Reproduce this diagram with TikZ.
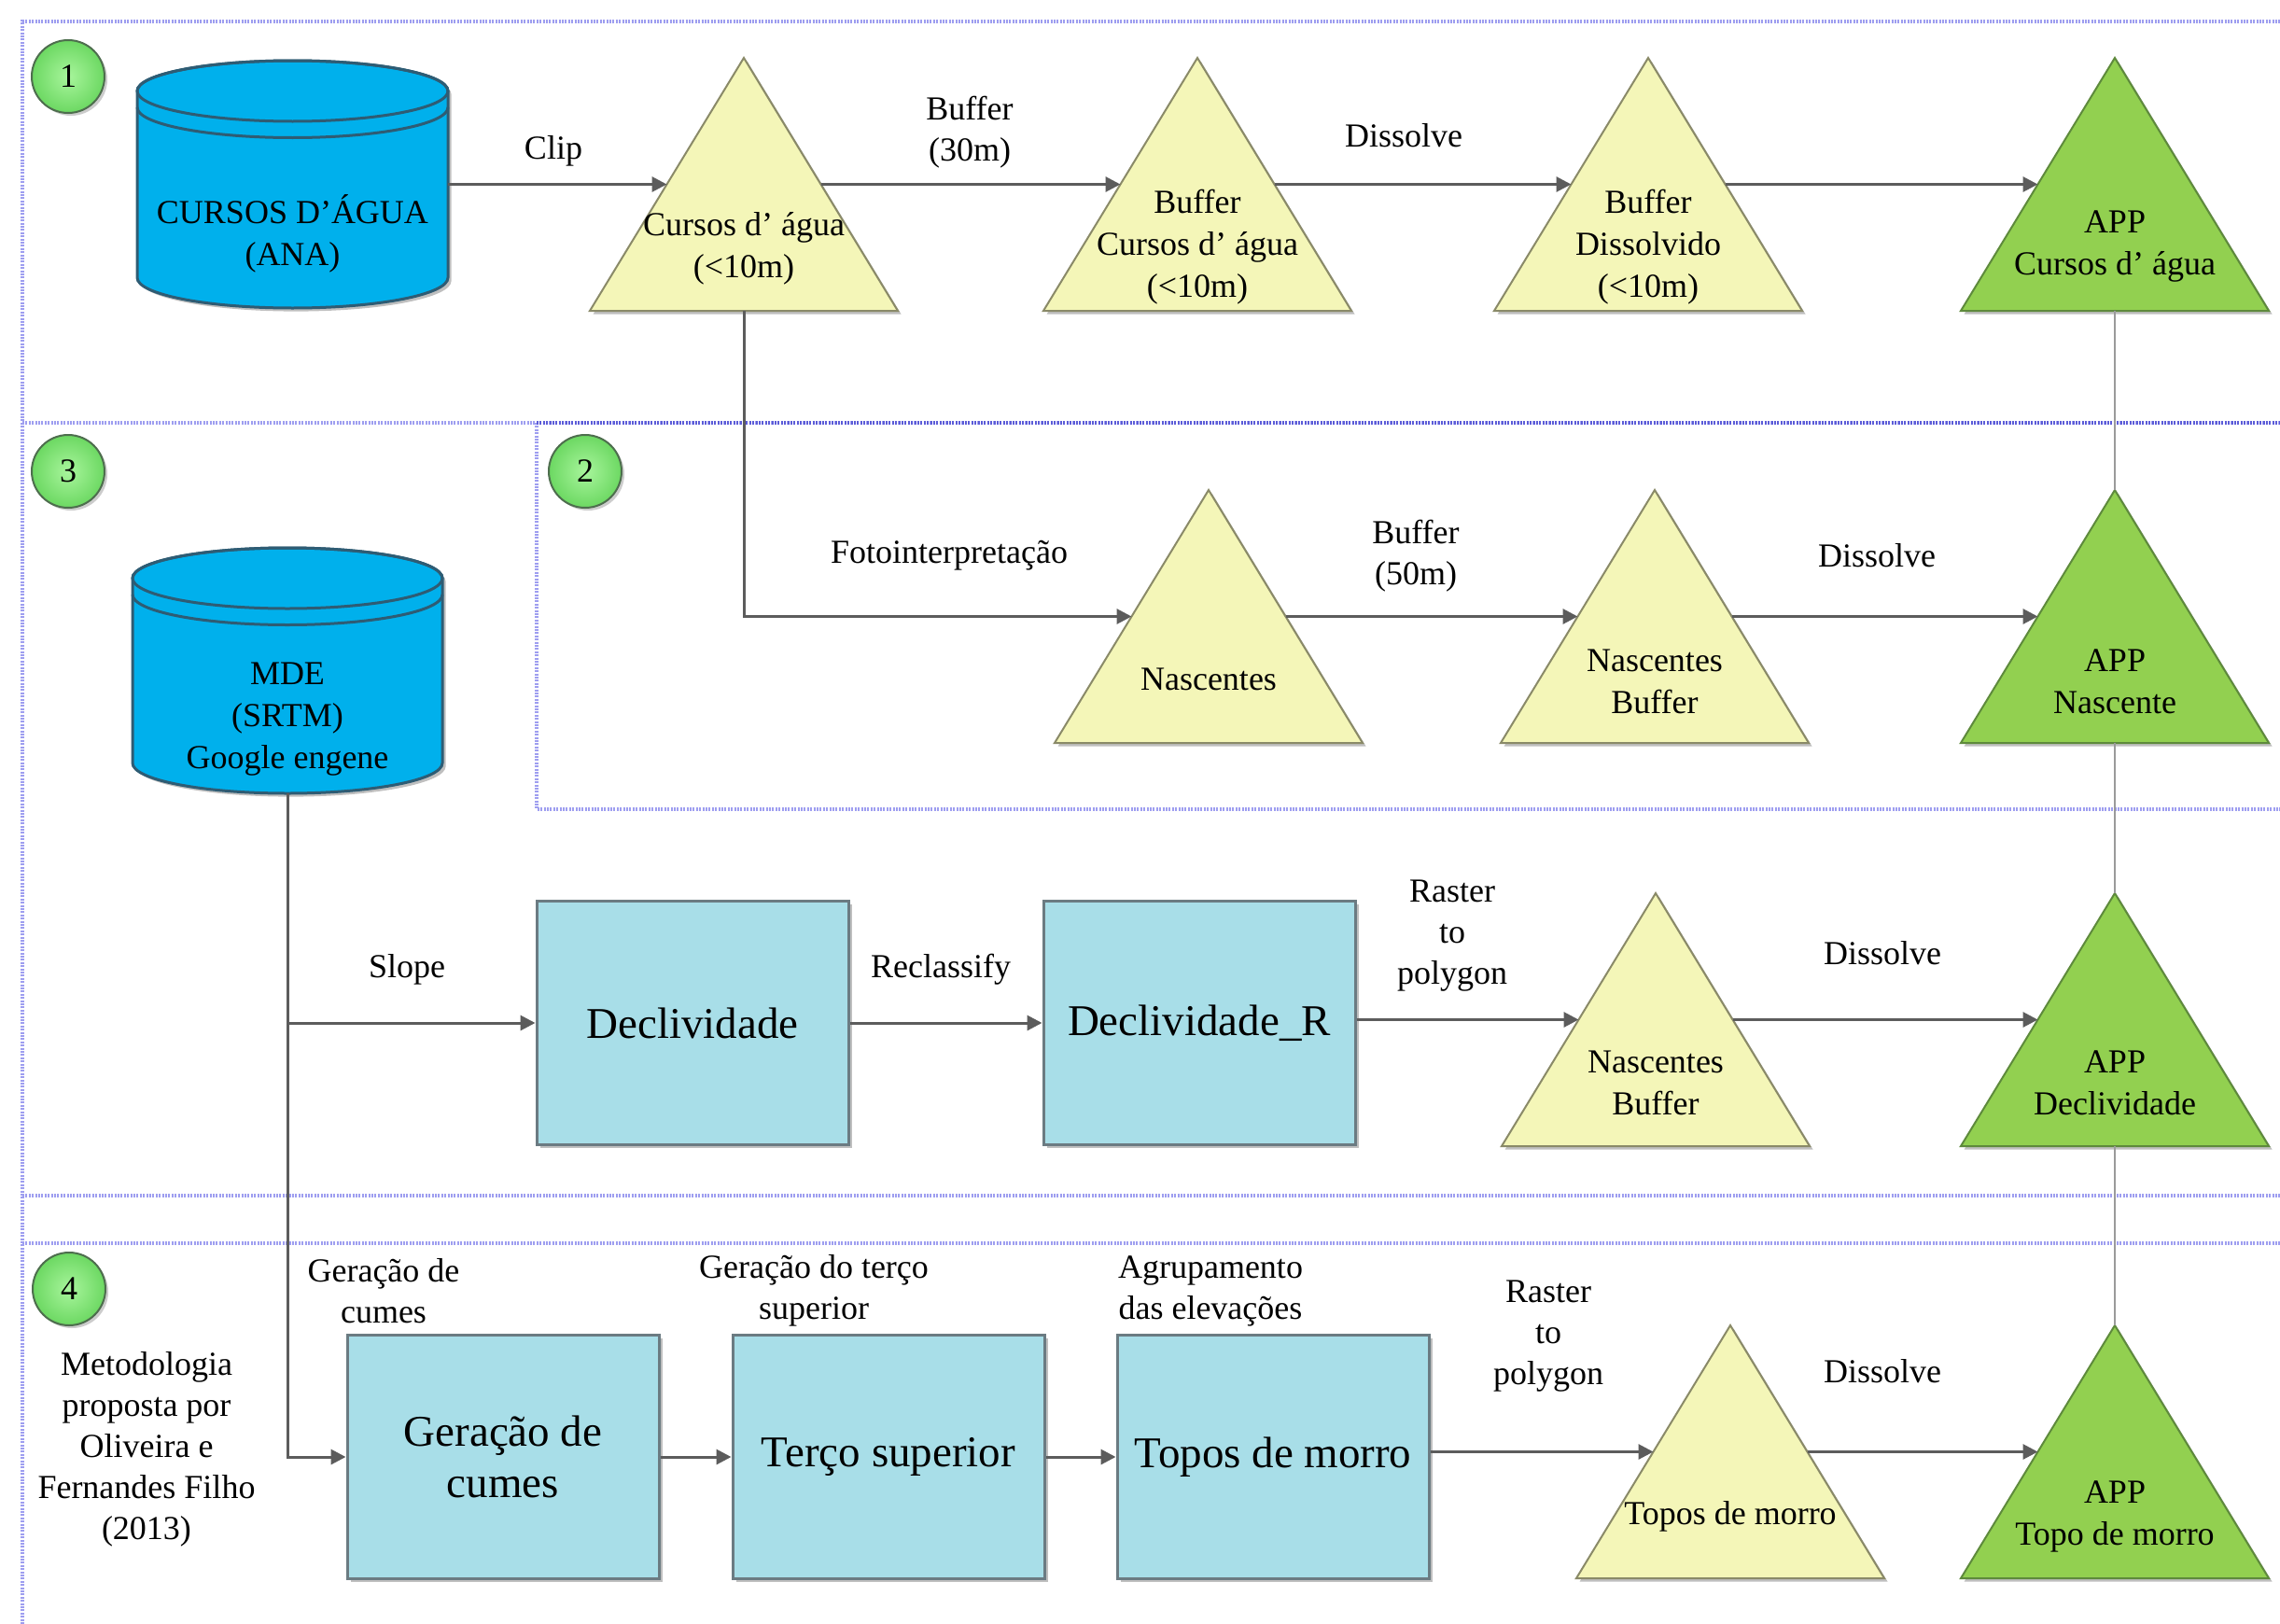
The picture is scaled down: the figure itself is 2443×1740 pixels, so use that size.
\documentclass[tikz,border=0pt]{standalone}
\usepackage{fontspec}
\setmainfont{Liberation Serif}
\usetikzlibrary{arrows.meta,calc,shadows}

\definecolor{cylfill}{HTML}{00B0EC}
\definecolor{cylline}{HTML}{2E5C74}
\definecolor{trifill}{HTML}{F4F6B8}
\definecolor{triline}{HTML}{8A8A68}
\definecolor{appfill}{HTML}{92D050}
\definecolor{appline}{HTML}{5E8A3C}
\definecolor{boxfill}{HTML}{A8DEE8}
\definecolor{boxline}{HTML}{6B7B82}
\definecolor{arrowc}{HTML}{5C5C5C}
\definecolor{linkc}{HTML}{9A9A9A}
\definecolor{panelc}{HTML}{9E9EF0}
\definecolor{paneldark}{HTML}{5C5CD8}
\definecolor{badgein}{HTML}{A8F59C}
\definecolor{badgeout}{HTML}{6CD862}
\definecolor{badgeline}{HTML}{4E6E4E}

% one GIS layer drawn as a triangle, with anchors on its edges
% #1 name, #2 apex x, #3 apex y, #4 style, #5 text y, #6 text
\newcommand\camada[6]{%
  \coordinate (#1-n) at (#2,#3);
  \coordinate (#1-sw) at ({#2-165},{#3+271});
  \coordinate (#1-se) at ({#2+165},{#3+271});
  \coordinate (#1-s) at (#2,{#3+271});
  \coordinate (#1-w) at ($(#1-n)!0.5!(#1-sw)$);
  \coordinate (#1-e) at ($(#1-n)!0.5!(#1-se)$);
  \path[#4] (#1-n) -- (#1-se) -- (#1-sw) -- cycle;
  \node[tritxt] (#1-t) at (#2,#5) {#6};
}

\begin{document}
\begin{tikzpicture}[x=0.5pt,y=-0.5pt,
  lbl/.style={font=\fontsize{18}{22}\selectfont, align=center, inner sep=0pt},
  tritxt/.style={font=\fontsize{18}{22.5}\selectfont, align=center, inner sep=0pt},
  cyltxt/.style={font=\fontsize{18}{22.5}\selectfont, align=center, inner sep=0pt},
  shade1/.style={drop shadow={shadow xshift=1.8pt, shadow yshift=-1.8pt, opacity=0.25, fill=black}},
  yel/.style={fill=trifill, draw=triline, line width=1pt, shade1},
  appt/.style={fill=appfill, draw=appline, line width=1pt, shade1},
  proc/.style={draw=boxline, fill=boxfill, line width=1.5pt, minimum width=167pt,
    minimum height=130.5pt, inner sep=0pt, align=center,
    font=\fontsize{23.5}{27.5}\selectfont, shade1},
  cylbody/.style={fill=cylfill, draw=cylline, line width=1.5pt, shade1},
  cylring/.style={draw=cylline, line width=1.5pt},
  anchorbox/.style={inner sep=0pt, outer sep=0pt},
  arr/.style={draw=arrowc, line width=1.5pt, -{Triangle[length=8pt,width=8pt]}},
  link/.style={draw=linkc, line width=1.3pt},
  panel/.style={draw=panelc, line width=1.8pt, dash pattern=on 1pt off 0.7pt},
  paneltop/.style={draw=paneldark, line width=1.8pt, dash pattern=on 1pt off 0.7pt},
  badge/.style={circle, minimum size=39pt, inner sep=0pt, draw=badgeline, line width=1pt,
    inner color=badgein, outer color=badgeout, font=\fontsize{18}{18}\selectfont,
    drop shadow={shadow xshift=1.5pt, shadow yshift=-1.5pt, opacity=0.2, fill=black}}
]
\useasboundingbox (0,0) rectangle (2443,1740);
\fill[white] (0,0) rectangle (2443,1740);

% ---- dotted panel frames ----
\draw[panel] (24,1740) -- (24,23) -- (2443,23);
\draw[panel] (24,453) -- (2443,453);
\draw[panel] (575,453) -- (575,867) -- (2443,867);
\draw[paneltop] (575,453) -- (2443,453);
\draw[panel] (24,1281) -- (2443,1281);
\draw[panel] (24,1332) -- (2443,1332);

% ---- step badges ----
\node[badge] (b1) at (73,82) {1};
\node[badge] (b2) at (627,505) {2};
\node[badge] (b3) at (73,505) {3};
\node[badge] (b4) at (74,1381) {4};

% ---- database cylinders ----
\path[cylbody] (147,97.5) -- (147,297.5) arc[start angle=180,end angle=0,x radius=166.5,y radius=32.5]
  -- (480,97.5) arc[start angle=0,end angle=-180,x radius=166.5,y radius=32.5] -- cycle;
\path[cylring] (313.5,97.5) ellipse[x radius=166.5,y radius=32.5];
\path[cylring] (147,115) arc[start angle=180,end angle=0,x radius=166.5,y radius=32.5];
\node[anchorbox, minimum width=166.5pt, minimum height=132.5pt] (ana) at (313.5,197.5) {};
\node[cyltxt] (ana-t) at (313.5,250) {CURSOS D'ÁGUA\\(ANA)};

\path[cylbody] (142,619.5) -- (142,817.5) arc[start angle=180,end angle=0,x radius=166,y radius=32.5]
  -- (474,619.5) arc[start angle=0,end angle=-180,x radius=166,y radius=32.5] -- cycle;
\path[cylring] (308,619.5) ellipse[x radius=166,y radius=32.5];
\path[cylring] (142,637) arc[start angle=180,end angle=0,x radius=166,y radius=32.5];
\node[anchorbox, minimum width=166pt, minimum height=131.5pt] (mde) at (308,718.5) {};
\node[cyltxt] (mde-t) at (308,771) {MDE\\(SRTM)\\Google engene};

% ---- layers (triangles) ----
\camada{t1}{797}{62}{yel}{266}{Cursos d’ água\\(<10m)}
\camada{t2}{1283}{62}{yel}{265}{Buffer\\Cursos d’ água\\(<10m)}
\camada{t3}{1766}{62}{yel}{265}{Buffer\\Dissolvido\\(<10m)}
\camada{app1}{2266}{62}{appt}{264}{APP\\Cursos d’ água}
\camada{nas}{1295}{525}{yel}{728}{Nascentes}
\camada{nasb}{1773}{525}{yel}{730}{Nascentes\\Buffer}
\camada{app2}{2266}{525}{appt}{730}{APP\\Nascente}
\camada{decb}{1774}{957}{yel}{1160}{Nascentes\\Buffer}
\camada{app3}{2266}{957}{appt}{1160}{APP\\Declividade}
\camada{topt}{1854}{1420}{yel}{1625}{Topos de morro}
\camada{app4}{2266}{1420}{appt}{1625}{APP\\Topo de morro}

% ---- raster processing boxes ----
\node[proc] (decl) at (742,1096) {Declividade};
\node[proc] (declr) at (1285,1096) {Declividade\_R};
\node[proc] (gcum) at (539,1561) {Geração de\\cumes};
\node[proc] (terco) at (952,1561) {Terço superior};
\node[proc] (topos) at (1364,1561) {Topos de morro};

% ---- connectors ----
\draw[arr] (ana.east) -- (t1-w);
\draw[arr] (t1-e) -- (t2-w);
\draw[arr] (t2-e) -- (t3-w);
\draw[arr] (t3-e) -- (app1-w);
\draw[arr] (t1-s) |- (nas-w);
\draw[arr] (nas-e) -- (nasb-w);
\draw[arr] (nasb-e) -- (app2-w);
\draw[arr] (mde.south) |- (decl.west);
\draw[arr] (decl.east) -- (declr.west);
\draw[arr] (declr.east |- decb-w) -- (decb-w);
\draw[arr] (decb-e) -- (app3-w);
\draw[arr] (mde.south) |- (gcum.west);
\draw[arr] (gcum.east) -- (terco.west);
\draw[arr] (terco.east) -- (topos.west);
\draw[arr] (topos.east |- topt-w) -- (topt-w);
\draw[arr] (topt-e) -- (app4-w);
\draw[link] (app1-s) -- (app2-n);
\draw[link] (app2-s) -- (app3-n);
\draw[link] (app3-s) -- (app4-n);

% ---- operation labels ----
\node[lbl] (l-clip) at (593,162) {Clip};
\node[lbl] (l-buf30) at (1039,142) {Buffer\\(30m)};
\node[lbl] (l-dis1) at (1504,145) {Dissolve};
\node[lbl] (l-foto) at (1017,595) {Fotointerpretação};
\node[lbl] (l-buf50) at (1517,596) {Buffer\\(50m)};
\node[lbl] (l-dis2) at (2011,595) {Dissolve};
\node[lbl] (l-slope) at (436,1039) {Slope};
\node[lbl] (l-recl) at (1008,1039) {Reclassify};
\node[lbl] (l-r2p1) at (1556,1003) {Raster\\to\\polygon};
\node[lbl] (l-dis3) at (2017,1021) {Dissolve};
\node[lbl] (l-gc) at (411,1383) {Geração de\\cumes};
\node[lbl] (l-gt) at (872,1383) {Geração do terço\\superior};
\node[lbl] (l-ag) at (1297,1383) {Agrupamento\\das elevações};
\node[lbl] (l-r2p2) at (1659,1432) {Raster\\to\\polygon};
\node[lbl] (l-dis4) at (2017,1469) {Dissolve};
\node[lbl] (l-met) at (157,1553) {Metodologia\\proposta por\\Oliveira e\\Fernandes Filho\\(2013)};
\end{tikzpicture}
\end{document}
